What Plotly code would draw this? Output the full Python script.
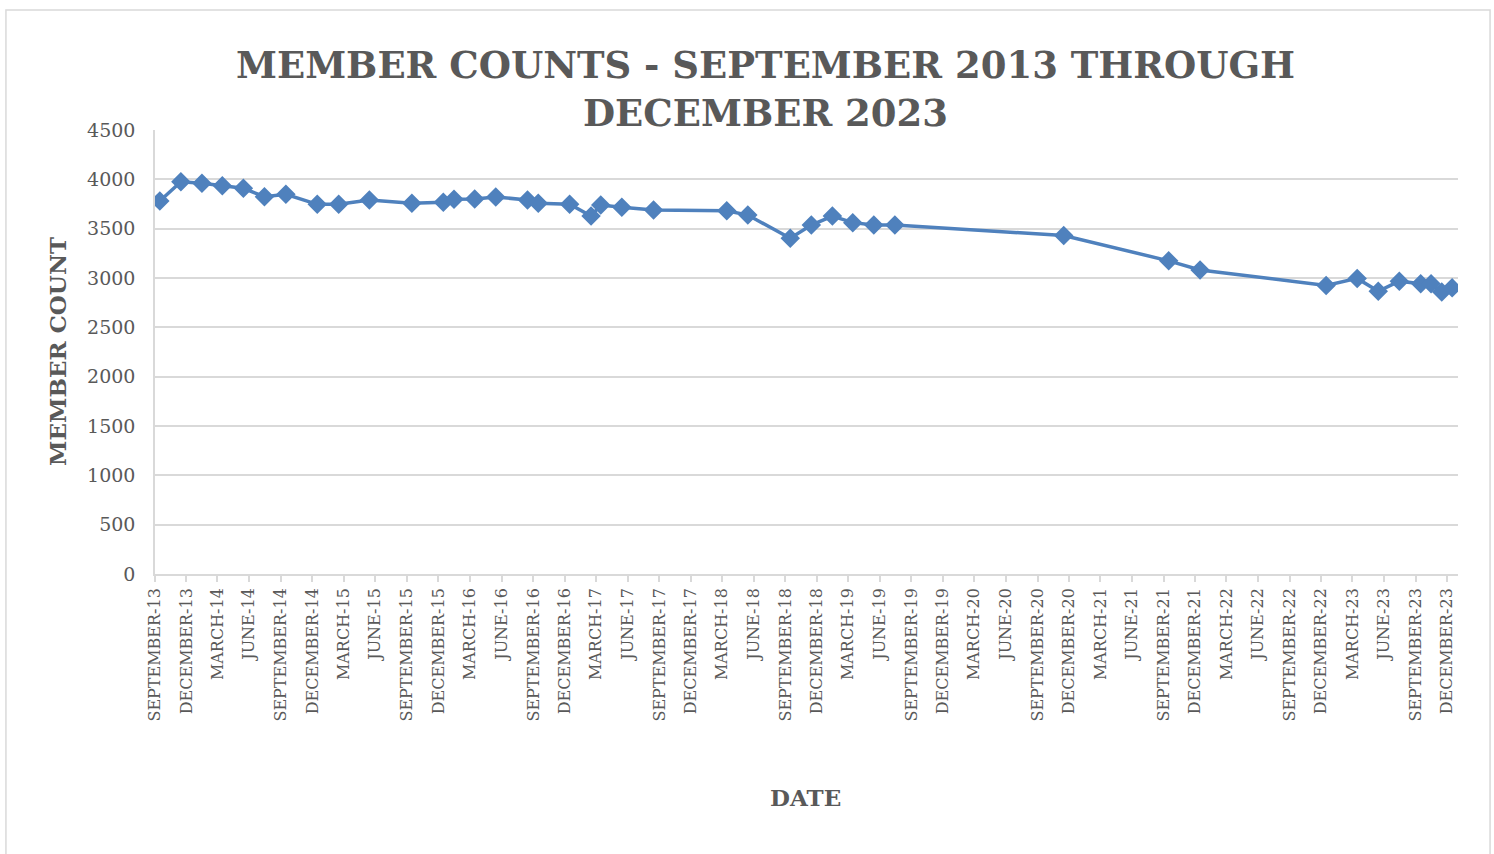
import plotly.graph_objects as go
import pandas as pd

# Data (month of observation, member count)
months = [
    "2013-09", "2013-11", "2014-01", "2014-03", "2014-05", "2014-07", "2014-09",
    "2014-12", "2015-02", "2015-05", "2015-09", "2015-12", "2016-01", "2016-03",
    "2016-05", "2016-08", "2016-09", "2016-12", "2017-02", "2017-03", "2017-05",
    "2017-08", "2018-03", "2018-05", "2018-09", "2018-11", "2019-01", "2019-03",
    "2019-05", "2019-07", "2020-11", "2021-09", "2021-12", "2022-12", "2023-03",
    "2023-05", "2023-07", "2023-09", "2023-10", "2023-11", "2023-12",
]
member_counts = [
    3780, 3976, 3960, 3936, 3909, 3824, 3848,
    3747, 3747, 3791, 3757, 3767, 3798, 3800,
    3821, 3791, 3757, 3747, 3628, 3740, 3716,
    3689, 3682, 3638, 3402, 3537, 3628, 3561,
    3537, 3537, 3431, 3174, 3082, 2924, 2996,
    2866, 2968, 2941, 2941, 2859, 2901,
]

# Tick labels: every 3 months from Sep 2013 to Dec 2023
tick_months = pd.date_range("2013-09-01", "2023-12-01", freq="3MS")
tick_labels = [d.strftime("%B").upper() + "-" + d.strftime("%y") for d in tick_months]

# Points sit mid-month (Excel date axis, base unit = months)
x_dates = [pd.Timestamp(m + "-01") + pd.Timedelta(days=14) for m in months]

GRAY = "#595959"
GRID = "#d9d9d9"
SERIF = "DejaVu Serif, Liberation Serif, serif"

fig = go.Figure()
fig.add_trace(go.Scatter(
    x=x_dates, y=member_counts, mode="lines+markers",
    line=dict(color="#4f81bd", width=3.5),
    marker=dict(symbol="diamond", size=15, color="#4f81bd"),
    showlegend=False, hoverinfo="x+y",
))

fig.update_layout(
    width=1494, height=854,
    margin=dict(l=155, r=36, t=130, b=280),
    paper_bgcolor="white", plot_bgcolor="white",
    font=dict(family=SERIF, color=GRAY),
    xaxis=dict(
        type="date",
        range=["2013-09-01", "2024-01-01"],
        tickmode="array",
        tickvals=list(tick_months),
        ticktext=tick_labels,
        tickangle=-90,
        tickfont=dict(family=SERIF, size=16, color=GRAY),
        ticks="outside", ticklen=6, tickcolor=GRID, tickwidth=1.5,
        showline=True, linecolor=GRID, linewidth=1.5,
        showgrid=False, zeroline=False,
    ),
    yaxis=dict(
        range=[0, 4500],
        tickmode="linear", tick0=0, dtick=500,
        tickfont=dict(family=SERIF, size=19, color=GRAY),
        ticklabelstandoff=14,
        showgrid=True, gridcolor=GRID, gridwidth=1.5,
        showline=True, linecolor=GRID, linewidth=1.5,
        zeroline=False, ticks="",
    ),
    annotations=[
        dict(
            text="<b>MEMBER COUNTS - SEPTEMBER 2013 THROUGH<br>DECEMBER 2023</b>",
            xref="paper", yref="paper", x=0.4689, y=1.0923,
            xanchor="center", yanchor="middle", showarrow=False,
            font=dict(family=SERIF, size=37, color=GRAY),
        ),
        dict(
            text="<b>DATE</b>",
            xref="paper", yref="paper", x=0.4996, y=-0.5045,
            xanchor="center", yanchor="middle", showarrow=False,
            font=dict(family=SERIF, size=23, color=GRAY),
        ),
        dict(
            text="<b>MEMBER COUNT</b>",
            xref="paper", yref="paper", x=-0.0752, y=0.5, textangle=-90,
            xanchor="center", yanchor="middle", showarrow=False,
            font=dict(family=SERIF, size=23, color=GRAY),
        ),
    ],
    shapes=[dict(
        type="rect", xref="paper", yref="paper",
        x0=-0.1144, x1=1.0246, y0=-0.7, y1=1.2703,
        line=dict(color=GRID, width=1.5), fillcolor="rgba(0,0,0,0)", layer="below",
    )],
)

fig.write_html(
    "out.html",
    config={"displayModeBar": False},
    post_script="document.body.style.margin='0';",
)
